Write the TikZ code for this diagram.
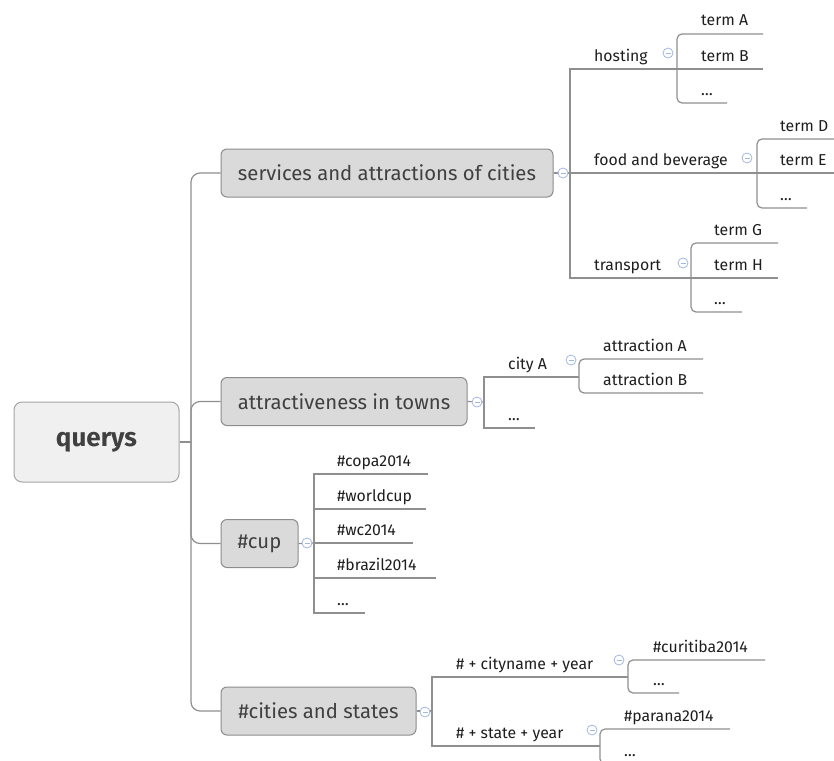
\documentclass[tikz,border=0pt]{standalone}
\usepackage{fontspec}
\setmainfont{Fira Sans}
\definecolor{linegray}{HTML}{8F8F8F}
\definecolor{rootfill}{HTML}{F0F0F0}
\definecolor{rootborder}{HTML}{A4A4A4}
\definecolor{topicfill}{HTML}{DADADA}
\definecolor{topicborder}{HTML}{8C8C8C}
\definecolor{darktext}{HTML}{404040}
\definecolor{leaftext}{HTML}{1E1E1E}
\definecolor{foldblue}{HTML}{A4B6E4}
\tikzset{
  link/.style={draw=linegray, line width=1.2pt},
  rootbox/.style={draw=rootborder, fill=rootfill, rounded corners=8pt, line width=1pt,
    minimum width=165pt, minimum height=80pt, inner sep=0pt,
    font=\fontsize{26}{30}\selectfont\bfseries, text=darktext},
  topicbox/.style={draw=topicborder, fill=topicfill, rounded corners=6pt, line width=1pt,
    minimum height=48pt, inner sep=0pt,
    font=\fontsize{20.3}{24}\selectfont, text=darktext},
  leaf/.style={anchor=base west, inner sep=0pt,
    font=\fontsize{15.8}{18}\selectfont, text=leaftext},
  foldmark/.style={circle, draw=foldblue, fill=white, minimum size=10pt, inner sep=0pt,
    line width=0.8pt,
    path picture={\draw[foldblue, line width=0.8pt]
      ([xshift=-2.5pt]path picture bounding box.center) --
      ([xshift=2.5pt]path picture bounding box.center);}},
}
\begin{document}
\begin{tikzpicture}[x=1pt, y=-1pt]
\useasboundingbox (0,0) rectangle (834,760);

% ---------- central topic and main trunk ----------
\node[rootbox] (Q) at (96.5,442) {querys};
\coordinate (J) at (191,442);

\node[topicbox, minimum width=332pt] (B1) at (387,173)   {services and attractions of cities};
\node[topicbox, minimum width=246pt] (B2) at (344,401.5) {attractiveness in towns};
\node[topicbox, minimum width=77pt]  (B3) at (259.5,543.5) {\#cup};
\node[topicbox, minimum width=195pt] (B4) at (318.5,711) {\#cities and states};

\draw[link] (Q.east) -- (J);
\draw[link, rounded corners=9pt] (J) |- (B1.west);
\draw[link, rounded corners=9pt] (J) |- (B2.west);
\draw[link, rounded corners=9pt] (J) |- (B3.west);
\draw[link, rounded corners=9pt] (J) |- (B4.west);

% ---------- services and attractions of cities ----------
\coordinate (f1) at (570,173);
\coordinate (hb) at (677,69);
\coordinate (fb) at (757,173);
\coordinate (tb) at (691,278);
\draw[link] (B1.east) -- (f1);
\draw[link] (f1) |- (hb);
\draw[link] (f1) -- (fb);
\draw[link] (f1) |- (tb);

\node[leaf] (hosting)   at (594,61)  {hosting};
\node[leaf] (food)      at (594,165) {food and beverage};
\node[leaf] (transport) at (594,270) {transport};

% hosting
\node[leaf] (tA)  at (701,26) {term A};
\node[leaf] (tB)  at (701,61) {term B};
\node[leaf] (hd)  at (701,95) {\dots};
\coordinate (tAe) at (763,34);
\coordinate (tBe) at (763,69);
\coordinate (hde) at (727,103);
\draw[link, rounded corners=5pt] (hb) |- (tAe);
\draw[link] (hb) -- (tBe);
\draw[link, rounded corners=5pt] (hb) |- (hde);

% food and beverage
\node[leaf] (tD) at (780,131) {term D};
\node[leaf] (tE) at (780,165) {term E};
\node[leaf] (fd) at (780,200) {\dots};
\coordinate (tDe) at (836,139);
\coordinate (tEe) at (836,173);
\coordinate (fde) at (807,208);
\draw[link, rounded corners=5pt] (fb) |- (tDe);
\draw[link] (fb) -- (tEe);
\draw[link, rounded corners=5pt] (fb) |- (fde);

% transport
\node[leaf] (tG) at (714,235) {term G};
\node[leaf] (tH) at (714,270) {term H};
\node[leaf] (td) at (714,304) {\dots};
\coordinate (tGe) at (778,243);
\coordinate (tHe) at (778,278);
\coordinate (tde) at (742,312);
\draw[link, rounded corners=5pt] (tb) |- (tGe);
\draw[link] (tb) -- (tHe);
\draw[link, rounded corners=5pt] (tb) |- (tde);

% ---------- attractiveness in towns ----------
\coordinate (f2) at (484,402);
\coordinate (cb) at (579,377);
\coordinate (c2e) at (535,428);
\draw[link] (B2.east) -- (f2);
\draw[link] (f2) |- (cb);
\draw[link] (f2) |- (c2e);
\node[leaf] (cityA) at (508,369) {city A};
\node[leaf] (cd)    at (508,420) {\dots};

\node[leaf] (aA) at (603,351) {attraction A};
\node[leaf] (aB) at (603,385) {attraction B};
\coordinate (aAe) at (703,359);
\coordinate (aBe) at (703,393);
\draw[link, rounded corners=5pt] (cb) |- (aAe);
\draw[link, rounded corners=5pt] (cb) |- (aBe);

% ---------- #cup ----------
\coordinate (f3) at (314,543);
\draw[link] (B3.east) -- (f3);
\node[leaf] (h1) at (337,466) {\#copa2014};
\node[leaf] (h2) at (337,501) {\#worldcup};
\node[leaf] (h3) at (337,535) {\#wc2014};
\node[leaf] (h4) at (337,570) {\#brazil2014};
\node[leaf] (h5) at (337,605) {\dots};
\coordinate (h1e) at (428,474);
\coordinate (h2e) at (426,509);
\coordinate (h3e) at (413,543);
\coordinate (h4e) at (436,578);
\coordinate (h5e) at (365,613);
\draw[link] (f3) |- (h1e);
\draw[link] (f3) |- (h2e);
\draw[link] (f3) -- (h3e);
\draw[link] (f3) |- (h4e);
\draw[link] (f3) |- (h5e);

% ---------- #cities and states ----------
\coordinate (f4) at (432,711);
\coordinate (nb) at (628,677);
\coordinate (sb) at (600,746);
\draw[link] (B4.east) -- (f4);
\draw[link] (f4) |- (nb);
\draw[link] (f4) |- (sb);
\node[leaf] (cyear) at (456,669) {\# + cityname + year};
\node[leaf] (syear) at (456,738) {\# + state + year};

\node[leaf] (cur) at (653,652) {\#curitiba2014};
\node[leaf] (curd) at (653,685) {\dots};
\coordinate (cure) at (765,660);
\coordinate (curde) at (679,693);
\draw[link, rounded corners=5pt] (nb) |- (cure);
\draw[link, rounded corners=5pt] (nb) |- (curde);

\node[leaf] (par) at (624,721) {\#parana2014};
\node[leaf] (pard) at (624,756) {\dots};
\coordinate (pare) at (730,729);
\coordinate (parde) at (660,764);
\draw[link, rounded corners=5pt] (sb) |- (pare);
\draw[link, rounded corners=5pt] (sb) |- (parde);

% ---------- collapse markers ----------
\node[foldmark] (m1) at (563,173) {};
\node[foldmark] (m2) at (477,402) {};
\node[foldmark] (m3) at (307,543) {};
\node[foldmark] (m4) at (425,712) {};
\node[foldmark] (m5) at (668,53)  {};
\node[foldmark] (m6) at (747,158) {};
\node[foldmark] (m7) at (683,263) {};
\node[foldmark] (m8) at (571,360) {};
\node[foldmark] (m9) at (619,660) {};
\node[foldmark] (m10) at (592,730) {};
\end{tikzpicture}
\end{document}
